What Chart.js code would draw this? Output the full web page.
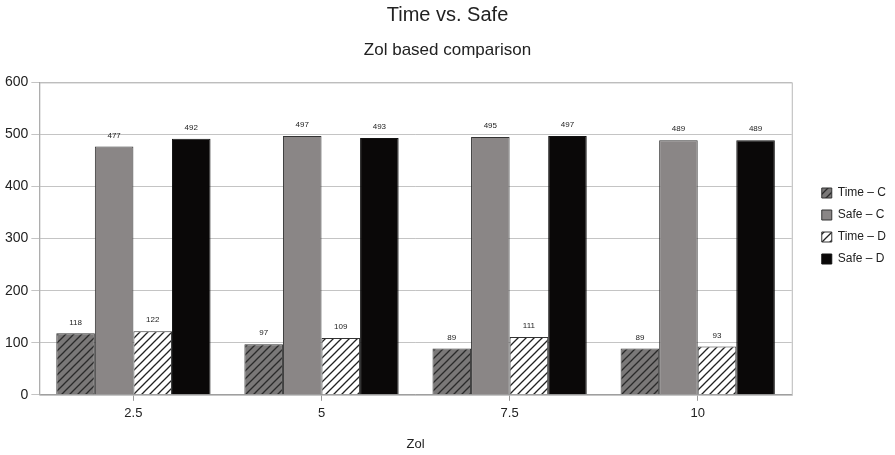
<!DOCTYPE html>
<html>
<head>
<meta charset="utf-8">
<script src="https://cdn.jsdelivr.net/npm/chart.js@4/dist/chart.umd.min.js"></script>
<style>
  html, body { margin: 0; padding: 0; background: #fff; }
  #wrap { width: 895px; height: 455px; }
</style>
</head>
<body>
<div id="wrap"><canvas id="chart"></canvas></div>
<script>
// Zol values on the x axis
const categories = ['2.5', '5', '7.5', '10'];

const timeC = [118, 97, 89, 89];
const safeC = [477, 497, 495, 489];
const timeD = [122, 109, 111, 93];
const safeD = [492, 493, 497, 489];

const seriesNames = ['Time \u2013 C', 'Safe \u2013 C', 'Time \u2013 D', 'Safe \u2013 D'];

const FONT = '"Liberation Sans", Arial, sans-serif';

// diagonal hatch fill
function hatch(bg, line) {
    const c = document.createElement('canvas');
    c.width = 8; c.height = 8;
    const g = c.getContext('2d');
    g.fillStyle = bg;
    g.fillRect(0, 0, 8, 8);
    g.strokeStyle = line;
    g.lineWidth = 1.3;
    g.beginPath();
    g.moveTo(0, 8); g.lineTo(8, 0);
    g.moveTo(-2, 2); g.lineTo(2, -2);
    g.moveTo(6, 10); g.lineTo(10, 6);
    g.stroke();
    return g.createPattern(c, 'repeat');
}

const ctx = document.getElementById('chart').getContext('2d');

// value labels on top of bars
const valueLabels = {
    id: 'valueLabels',
    afterDatasetsDraw(chart) {
        const c = chart.ctx;
        c.save();
        c.font = '8px ' + FONT;
        c.fillStyle = '#222';
        c.textAlign = 'center';
        c.textBaseline = 'bottom';
        chart.data.datasets.forEach((ds, i) => {
            chart.getDatasetMeta(i).data.forEach((bar, j) => {
                c.fillText(ds.data[j], bar.x, bar.y - 7);
            });
        });
        c.restore();
    }
};

// frame round the plot area
const plotFrame = {
    id: 'plotFrame',
    beforeDatasetsDraw(chart) {
        const a = chart.chartArea;
        const c = chart.ctx;
        c.save();
        c.strokeStyle = '#b8b8b8';
        c.lineWidth = 1;
        c.strokeRect(a.left + 0.5, a.top + 0.5, a.right - a.left, a.bottom - a.top);
        c.restore();
    }
};

// leave some room between plot and legend
const GAP = 17;
const SHIFT = 20;
const legendGap = {
    id: 'legendGap',
    beforeInit(chart) {
        const fit = chart.legend.fit;
        chart.legend.fit = function () { fit.call(this); this.width += GAP; };
    },
    afterLayout(chart) {
        chart.legend.left += SHIFT;
        chart.legend.right += SHIFT;
    }
};

new Chart(ctx, {
    type: 'bar',
    data: {
        labels: categories,
        datasets: [
            { label: seriesNames[0], data: timeC, backgroundColor: hatch('#7a7878', '#2a2a2a'), borderColor: '#333', borderWidth: 1 },
            { label: seriesNames[1], data: safeC, backgroundColor: '#8a8686', borderColor: '#333', borderWidth: 1 },
            { label: seriesNames[2], data: timeD, backgroundColor: hatch('#ffffff', '#222'), borderColor: '#333', borderWidth: 1 },
            { label: seriesNames[3], data: safeD, backgroundColor: '#0a0808', borderColor: '#111', borderWidth: 1 }
        ]
    },
    options: {
        responsive: true,
        maintainAspectRatio: false,
        animation: false,
        layout: { padding: { left: 2, right: 2, top: 0, bottom: 3 } },
        datasets: { bar: { categoryPercentage: 0.82, barPercentage: 1.0 } },
        plugins: {
            title: {
                display: true,
                text: 'Time vs. Safe',
                color: '#222',
                font: { family: FONT, size: 20, weight: 'normal' },
                padding: { top: 3, bottom: 6 }
            },
            subtitle: {
                display: true,
                text: 'Zol based comparison',
                color: '#222',
                font: { family: FONT, size: 17, weight: 'normal' },
                padding: { top: 7, bottom: 22 }
            },
            legend: {
                position: 'right',
                labels: {
                    boxWidth: 10,
                    boxHeight: 10,
                    padding: 10,
                    color: '#222',
                    font: { family: FONT, size: 12 }
                }
            },
            tooltip: { enabled: false }
        },
        scales: {
            x: {
                grid: { display: true, drawOnChartArea: false, offset: false, tickLength: 6, color: '#999' },
                border: { color: '#999' },
                ticks: { color: '#222', font: { family: FONT, size: 13 }, padding: 5 },
                title: {
                    display: true,
                    text: 'Zol',
                    color: '#222',
                    font: { family: FONT, size: 13 },
                    padding: { top: 10, bottom: 0 }
                }
            },
            y: {
                min: 0,
                max: 600,
                ticks: { stepSize: 100, color: '#222', font: { family: FONT, size: 14 }, padding: 3 },
                grid: { color: '#c4c4c4', tickLength: 8 },
                border: { color: '#999' }
            }
        }
    },
    plugins: [legendGap, plotFrame, valueLabels]
});
</script>
</body>
</html>
